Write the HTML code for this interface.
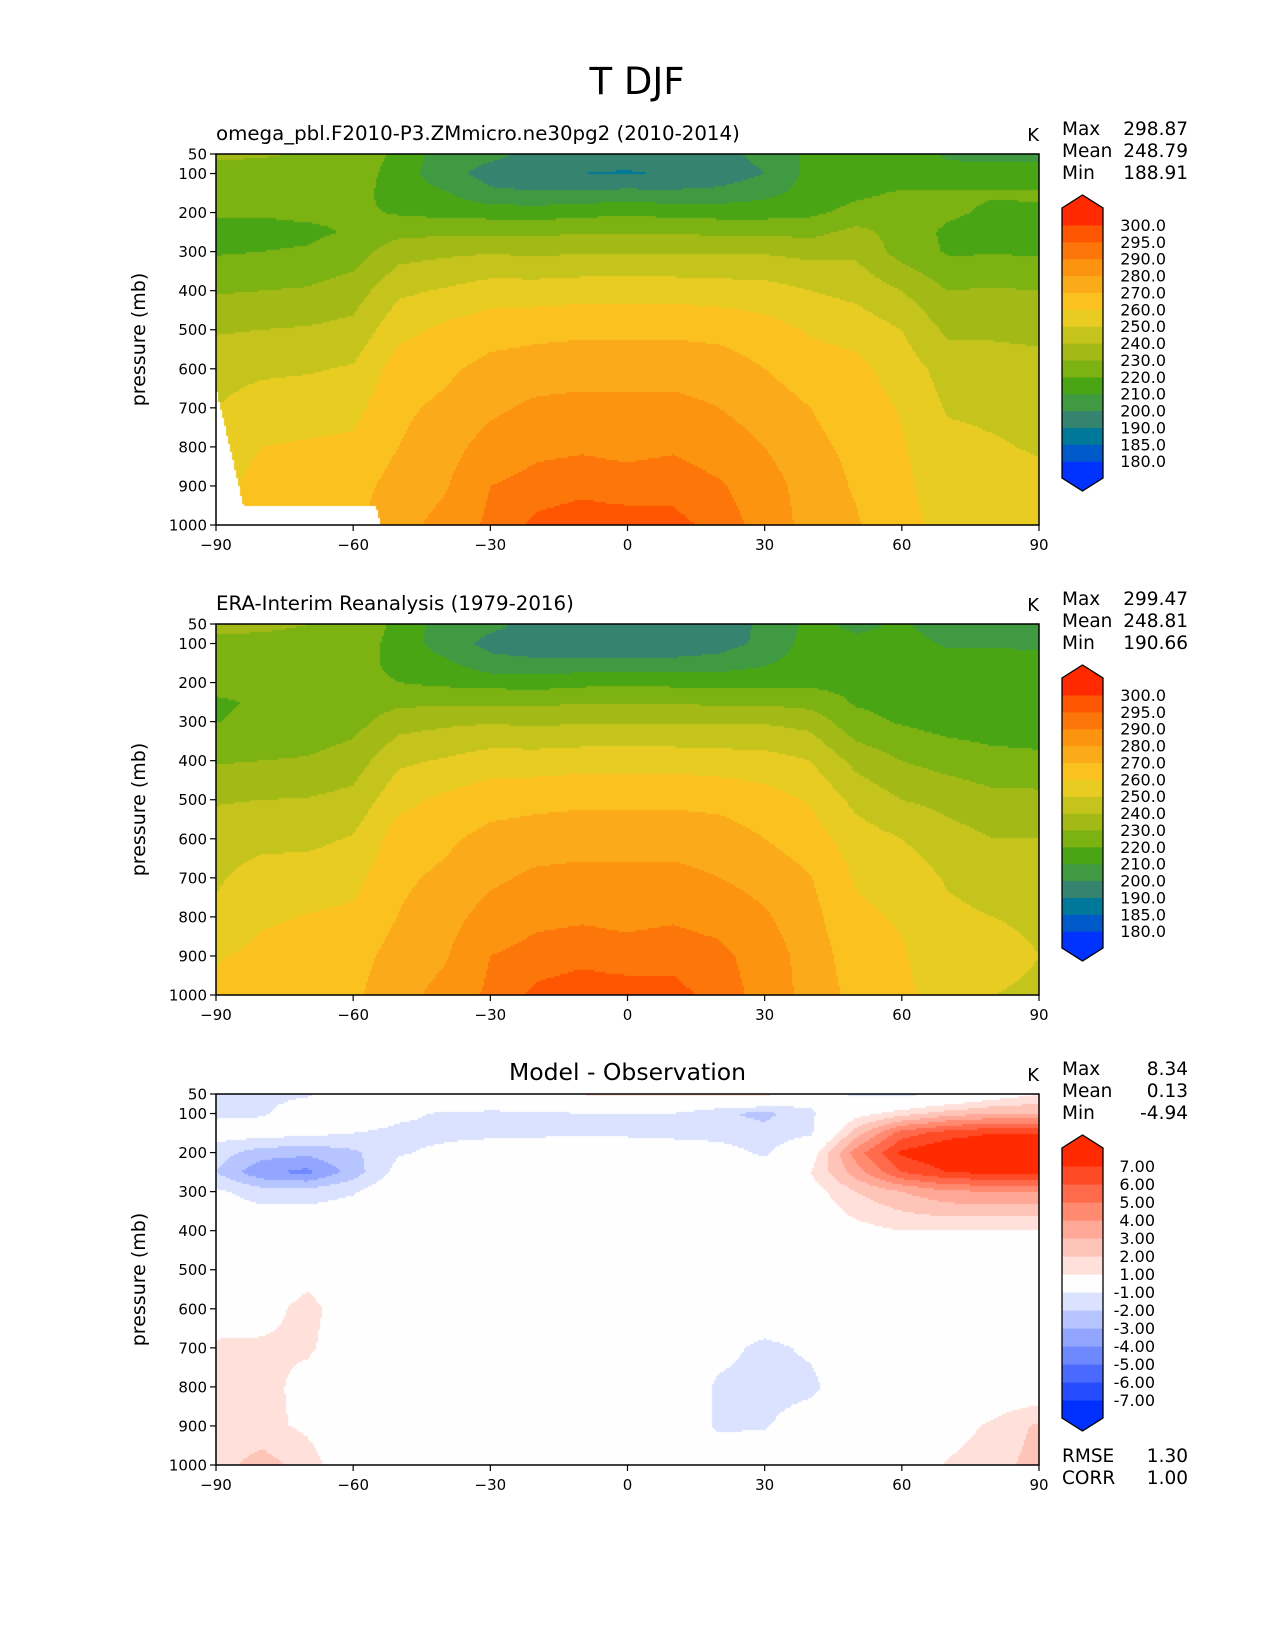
<!DOCTYPE html>
<html><head><meta charset="utf-8"><title>T DJF</title>
<style>
html,body{margin:0;padding:0;background:#fff;}
#wrap{position:relative;width:1275px;height:1650px;overflow:hidden;background:#fff;font-family:"DejaVu Sans","Liberation Sans",sans-serif;}
canvas{position:absolute;}
svg{position:absolute;left:0;top:0;}
</style></head>
<body>
<div id="wrap">
<canvas id="c0" width="823" height="371" style="left:216px;top:154px"></canvas>
<canvas id="c1" width="823" height="371" style="left:216px;top:624px"></canvas>
<canvas id="c2" width="823" height="371" style="left:216px;top:1094px"></canvas>
<svg id="ov" width="1275" height="1650" xmlns="http://www.w3.org/2000/svg"></svg>
</div>
<script>
const lats = [-90,-80,-70,-60,-50,-40,-30,-20,-10,0,10,20,30,40,50,60,70,80,90];
const pres = [50,100,150,200,250,300,400,500,600,700,800,900,1000];
const modelT = [
[232,226,223,221,217,219,229,239,246,250,253,256,258],
[231,226,223,221,217,220,230,240,248,255,260,264,266],
[229,226,224,222,218,221,231,241,249,256,261,265,268],
[228,226,224,222,221,225,235,243,251,257,262,266,268],
[217,215,215,219,227,236,248,257,265,268,270,274,277],
[205,204,211,217,228,238,251,262,268,272,276,279,283],
[203,196,202,216,228,239,255,266,273,278,284,290,292],
[197,193,201,215,228,238,255,267,275,282,288,293,296],
[195,190,202,217,229,239,256,268,276,283,289,294,297],
[195,189,203,218,229,239,256,268,276,283,288,293,297],
[196,191,202,217,229,239,256,268,276,283,289,294,296],
[197,194,203,216,228,239,255,267,275,280,286,291,294],
[203,200,207,216,228,239,254,264,270,275,280,285,287],
[212,213,214,218,227,237,250,259,265,270,272,275,276],
[214,214,218,223,233,238,247,256,263,266,268,269,271],
[214,215,221,225,226,226,240,250,255,259,261,262,263],
[209,212,222,222,218,219,230,238,246,249,253,255,257],
[208,213,221,218,214,219,231,238,245,248,251,254,256],
[207,214,221,219,214,219,230,237,244,247,249,253,255]
];
const obsT = [
[233.3,227.2,223.5,222.5,219,219.8,229,239,245.7,248.8,251.7,259,263],
[232.2,227.1,223.5,223.5,220.8,221.5,230,240,247.5,253.8,258.5,262.7,264.4],
[230.1,226.5,224.7,224.7,222.3,222.5,231,240.5,247.6,254.8,260.5,264.2,266.5],
[228.5,226.3,225,224.2,223.5,226.1,235,243,250.8,256.9,262,266,268],
[217,215.8,216.2,220.1,227.6,236,248,257,265,268,270.3,274,277],
[205,205.1,212.2,217.8,228,238,251,262,268,272,276,279,283],
[202.7,197.2,203.2,216.5,228,239,255,266,273,278,284,290,292],
[196.5,194.2,202.2,215.3,228,238,255,267,275,282,288,293,296],
[193.9,191,203.1,217.3,229,239,256,268,276,283,289,294,297],
[193.8,190,204.2,218.2,229,239,256,268,276,283,288,293,297],
[194.7,192,203.3,217.3,229,239,256,268,276,283,289,294,296],
[195.6,195.8,204.4,216.5,228,239,255,267,275,280,287.1,292.1,294],
[201.6,202.3,208.6,217.2,228.3,239,254,264,270,276.2,281.3,286,287],
[212.5,214.2,215.2,217.7,226,236.6,250,259,265,270.5,273.2,275.2,276],
[208,212,215,217,219,223,237,247,255,259,262,265,267],
[211,213,215,216,217,219,230,240,250,256,259,261,262],
[206,209,213,214,215,216,226,237,244,249,252,254,256],
[206,209,213,213,214,215,223,233,240,246,250,252,250],
[205,209,212,213,214,215,222,233,240,246,249,250,249]
];
const diffT = [
[-1.3,-1.2,-0.5,-1.5,-2.0,-0.8,0,0,0.3,1.2,1.3,1.2,1.5],
[-1.2,-1.1,-0.5,-2.5,-3.8,-1.5,0,0,0.5,1.2,1.5,1.3,2.5],
[-1.1,-0.5,-0.7,-2.7,-4.3,-1.5,0,0.5,1.4,1.2,0.5,0.8,1.5],
[-0.5,-0.3,-1.0,-2.2,-2.5,-1.1,0,0,0.2,0.1,0,0,0],
[0,-0.8,-1.2,-1.1,-0.6,0,0,0,0,0,-0.3,0,0],
[0,-1.1,-1.2,-0.8,0,0,0,0,0,0,0,0,0],
[0.3,-1.2,-1.2,-0.5,0,0,0,0,0,0,0,0,0],
[0.5,-1.2,-1.2,-0.3,0,0,0,0,0,0,0,0,0],
[1.1,-1.0,-1.1,-0.3,0,0,0,0,0,0,0,0,0],
[1.2,-1.0,-1.2,-0.2,0,0,0,0,0,0,0,0,0],
[1.3,-1.0,-1.3,-0.3,0,0,0,0,0,0,0,0,0],
[1.4,-1.8,-1.4,-0.5,0,0,0,0,0,-0.6,-1.2,-1.2,0],
[1.4,-2.3,-1.6,-1.2,-0.3,0,0,0,0,-1.3,-1.4,-1.1,0],
[-0.5,-1.2,-1.2,0.3,1.0,0.4,0,0,0,-0.8,-1.3,-0.3,0],
[-1.2,0.5,2.5,4.5,3.5,2.0,0.6,0,0,0,0,0,0],
[-1.3,1.5,5.5,7.2,6.0,3.0,1.0,0,0,0,0,0,0],
[-0.8,2.5,6.5,8.0,7.0,3.8,1.0,0,0,0,0,0.5,1.1],
[0.2,3,7,8.2,7.3,4,0.9,0,0,0,0,1.2,1.5],
[1,3,7,8.3,7.3,4,0.9,0.3,0,0,0,2.2,2.5]
];
const maskLat = [-90,-87,-84,-55,-54];
const maskP = [650,800,950,950,1000];
const tLevels = [180,185,190,200,210,220,230,240,250,260,270,280,290,295,300];
const tColors = ['#0033ff','#0059c8','#00789a','#358470','#3f9a42','#4aa514','#7cb212','#a3ba16','#c5c41c','#e8cc22','#fbc11f','#fbaa1a','#fc9410','#fd760a','#fe5500','#ff2a00'];
const tLabels = ['180.0','185.0','190.0','200.0','210.0','220.0','230.0','240.0','250.0','260.0','270.0','280.0','290.0','295.0','300.0'];
const dLevels = [-7,-6,-5,-4,-3,-2,-1,1,2,3,4,5,6,7];
const dColors = ['#0030ff','#264cff','#4a6aff','#6e88ff','#92a6ff','#b6c4ff','#dae2ff','#fefefe','#ffe0da','#ffc4b8','#ffa898','#ff8a70','#ff6a4d','#ff4a26','#ff2a00'];
const dLabels = ['-7.00','-6.00','-5.00','-4.00','-3.00','-2.00','-1.00','1.00','2.00','3.00','4.00','5.00','6.00','7.00'];
const xTicks = [-90,-60,-30,0,30,60,90];
const xTickLabels = ['\u221290','\u221260','\u221230','0','30','60','90'];
const yTicks = [50,100,200,300,400,500,600,700,800,900,1000];
const panelTops = [154,624,1094];
const statsModel = ['298.87','248.79','188.91'];
const statsObs = ['299.47','248.81','190.66'];
const statsDiff = ['8.34','0.13','-4.94'];
const errStats = ['1.30','1.00'];

const AX_L = 216, AX_W = 823, AX_H = 371;
function xScale(lat){ return AX_L + (lat + 90) / 180 * AX_W; }
function yScale(p, top){ return top + (p - 50) / 950 * AX_H; }
function interp1(xs, ys, x){
  if (x <= xs[0]) return ys[0];
  for (let i = 0; i < xs.length - 1; i++) {
    if (x <= xs[i+1]) { const t = (x - xs[i]) / (xs[i+1] - xs[i]); return ys[i] + t * (ys[i+1] - ys[i]); }
  }
  return ys[ys.length-1];
}
function findIdx(arr, v){
  for (let i = 0; i < arr.length - 2; i++) if (v <= arr[i+1]) return i;
  return arr.length - 2;
}
function bilin(grid, lat, p){
  const i = findIdx(lats, lat), j = findIdx(pres, p);
  const tx = Math.max(0, Math.min(1, (lat - lats[i]) / (lats[i+1] - lats[i])));
  const ty = Math.max(0, Math.min(1, (p - pres[j]) / (pres[j+1] - pres[j])));
  const a = grid[i][j], b = grid[i+1][j], c = grid[i][j+1], d = grid[i+1][j+1];
  return a*(1-tx)*(1-ty) + b*tx*(1-ty) + c*(1-tx)*ty + d*tx*ty;
}
function colorFor(v, levels, colors){
  let k = 0;
  while (k < levels.length && v >= levels[k]) k++;
  return colors[k];
}
function drawField(id, grid, levels, colors, useMask){
  const cv = document.getElementById(id), ctx = cv.getContext('2d');
  ctx.fillStyle = '#ffffff'; ctx.fillRect(0,0,AX_W,AX_H);
  const st = 2;
  for (let px = 0; px < AX_W; px += st) {
    const lat = -90 + (px + st/2) / AX_W * 180;
    const ps = useMask ? interp1(maskLat, maskP, lat) : 2000;
    for (let py = 0; py < AX_H; py += st) {
      const p = 50 + (py + st/2) / AX_H * 950;
      if (p > ps) continue;
      ctx.fillStyle = colorFor(bilin(grid, lat, p), levels, colors);
      ctx.fillRect(px, py, st, st);
    }
  }
}
drawField('c0', modelT, tLevels, tColors, true);
drawField('c1', obsT, tLevels, tColors, false);
drawField('c2', diffT, dLevels, dColors, false);

const NS = 'http://www.w3.org/2000/svg';
const svg = document.getElementById('ov');
function mk(tag, attrs, parent){
  const e = document.createElementNS(NS, tag);
  for (const k in attrs) e.setAttribute(k, attrs[k]);
  (parent || svg).appendChild(e);
  return e;
}
function txt(s, x, y, size, anchor, parent){
  const t = mk('text', {x:x, y:y, 'font-size':size, 'text-anchor':anchor || 'start', fill:'#000', 'font-family':'DejaVu Sans, Liberation Sans, sans-serif'}, parent);
  t.textContent = s;
  return t;
}
const title = txt('T DJF', 637, 94, 37, 'middle');



const subtitles = ['omega_pbl.F2010-P3.ZMmicro.ne30pg2 (2010-2014)', 'ERA-Interim Reanalysis (1979-2016)', 'Model - Observation'];
const statSets = [statsModel, statsObs, statsDiff];
for (let k = 0; k < 3; k++) {
  const top = panelTops[k];
  const g = mk('g', {});
  
  
  const frame = mk('rect', {x:AX_L, y:top, width:AX_W, height:AX_H, fill:'none', stroke:'#000', 'stroke-width':1.5}, g);
  
  
  for (let i = 0; i < xTicks.length; i++) {
    const x = xScale(xTicks[i]);
    const tk = mk('line', {x1:x, y1:top+AX_H, x2:x, y2:top+AX_H+6, stroke:'#000', 'stroke-width':1.2}, g);
    
    
    const tl = txt(xTickLabels[i], x, top+AX_H+25, 15, 'middle', g);
    
    
  }
  for (let i = 0; i < yTicks.length; i++) {
    const y = yScale(yTicks[i], top);
    const tk = mk('line', {x1:AX_L-6, y1:y, x2:AX_L, y2:y, stroke:'#000', 'stroke-width':1.2}, g);
    
    
    const tl = txt(String(yTicks[i]), AX_L-9, y+5.5, 15, 'end', g);
    
    
  }
  const yl = txt('pressure (mb)', 0, 0, 19, 'middle', g);
  yl.setAttribute('transform', 'translate(145,' + (top + AX_H/2) + ') rotate(-90)');
  
  
  let st;
  if (k < 2) st = txt(subtitles[k], 216, top-14, 19.8, 'start', g);
  else st = txt(subtitles[k], AX_L + AX_W/2, top-14, 23.5, 'middle', g);
  
  
  const ku = txt('K', 1039, top-13, 18, 'end', g);
  
  
  const names = ['Max','Mean','Min'];
  for (let r = 0; r < 3; r++) {
    const by = top - 19 + r * 22;
    const sn = txt(names[r], 1062, by, 18.5, 'start', g);
    
    
    const sv = txt(statSets[k][r], 1188, by, 18.5, 'end', g);
    
    
  }
  const cb = mk('g', {}, g);
  
  
  const colors = k < 2 ? tColors : dColors;
  const labels = k < 2 ? tLabels : dLabels;
  const x0 = 1062, x1 = 1103, rt = top + 54, rb = top + 324, tip = 13;
  const n = colors.length, h = (rb - rt) / n;
  const xm = (x0 + x1) / 2;
  const tipTop = mk('polygon', {points: x0+','+rt+' '+xm+','+(rt-tip)+' '+x1+','+rt, fill:colors[n-1]}, cb);
  
  
  const tipBot = mk('polygon', {points: x0+','+rb+' '+xm+','+(rb+tip)+' '+x1+','+rb, fill:colors[0]}, cb);
  
  
  for (let i = 0; i < n; i++) {
    const y = rb - (i + 1) * h;
    const seg = mk('rect', {x:x0, y:y, width:x1-x0, height:h+0.6, fill:colors[i]}, cb);
    
    
  }
  const outline = mk('polygon', {points: x0+','+rt+' '+xm+','+(rt-tip)+' '+x1+','+rt+' '+x1+','+rb+' '+xm+','+(rb+tip)+' '+x0+','+rb, fill:'none', stroke:'#000', 'stroke-width':1.3}, cb);
  
  
  const lx = k < 2 ? 1166 : 1155;
  for (let i = 0; i < labels.length; i++) {
    const y = rb - (i + 1) * h;
    const lb = txt(labels[i], lx, y + 6, 16, 'end', cb);
    
    
  }
}
const errNames = ['RMSE','CORR'];
for (let r = 0; r < 2; r++) {
  const en = txt(errNames[r], 1062, 1462 + r * 22, 18.5, 'start');
  
  
  const ev = txt(errStats[r], 1188, 1462 + r * 22, 18.5, 'end');
  
  
}
</script>
</body></html>
